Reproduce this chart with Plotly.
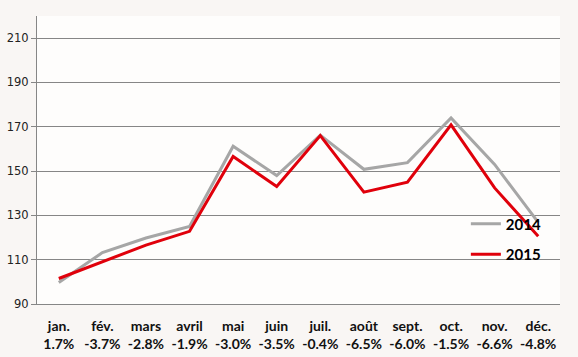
import plotly.graph_objects as go

months = ["jan.", "fév.", "mars", "avril", "mai", "juin", "juil.", "août", "sept.", "oct.", "nov.", "déc."]
changes = ["1.7%", "-3.7%", "-2.8%", "-1.9%", "-3.0%", "-3.5%", "-0.4%", "-6.5%", "-6.0%", "-1.5%", "-6.6%", "-4.8%"]
values_2014 = [99.7, 113.2, 119.8, 125.0, 161.2, 148.0, 166.2, 150.8, 153.8, 174.0, 153.0, 126.8]
values_2015 = [101.5, 109.0, 116.6, 122.8, 156.6, 143.0, 166.0, 140.5, 145.0, 170.9, 142.4, 120.6]
y_ticks = [90, 110, 130, 150, 170, 190, 210]

cats = [f"{m}<br>{c}" for m, c in zip(months, changes)]

fig = go.Figure()
fig.add_trace(go.Scatter(x=cats, y=values_2014, mode="lines", name="2014", legendgroup="a",
                         line=dict(color="#a6a6a6", width=3)))
fig.add_trace(go.Scatter(x=cats, y=values_2015, mode="lines", name="2015", legendgroup="b",
                         line=dict(color="#e0000b", width=3)))

fig.update_layout(
    width=578, height=357,
    margin=dict(l=37, r=18, t=16, b=53),
    paper_bgcolor="#f9f6f4",
    plot_bgcolor="#fefdfc",
    showlegend=True,
    legend=dict(x=0.82, y=0.335, xanchor="left", yanchor="top",
                bgcolor="rgba(0,0,0,0)", traceorder="grouped", tracegroupgap=8,
                font=dict(family="Lato", size=15, color="#000000", weight="bold"),
                itemwidth=30),
    xaxis=dict(type="category", showgrid=False, showline=True, linecolor="#868686", linewidth=1,
               ticks="", ticklabelstandoff=9, automargin=False,
               tickfont=dict(family="Lato", size=14, color="#111111", weight="bold"),
               range=[-0.5, 11.5], fixedrange=True),
    yaxis=dict(range=[90, 220], tickvals=y_ticks, showgrid=True, gridcolor="#868686", gridwidth=1,
               showline=True, linecolor="#868686", linewidth=1, ticks="outside", ticklen=5,
               tickcolor="#868686", zeroline=False, automargin=False,
               tickfont=dict(family="DejaVu Sans", size=11.5, color="#222222")),
)

fig.write_html("out.html")
